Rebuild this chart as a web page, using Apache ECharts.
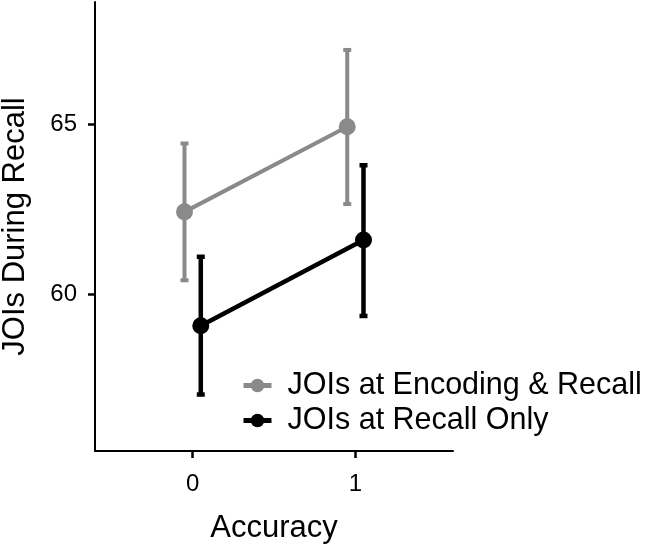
<!DOCTYPE html>
<html>
<head>
<meta charset="utf-8">
<script src="https://cdn.jsdelivr.net/npm/echarts@6/dist/echarts.min.js"></script>
<style>html,body{margin:0;padding:0;background:#fff;}#chart{width:647px;height:548px;}</style>
</head>
<body>
<div id="chart"></div>
<script>
// Data
var accuracy = [0, 1];
var seriesNames = ['JOIs at Encoding & Recall', 'JOIs at Recall Only'];
var encMean = [62.43, 64.93];
var encLower = [60.42, 62.66];
var encUpper = [64.44, 67.19];
var recMean = [59.08, 61.60];
var recLower = [57.06, 59.37];
var recUpper = [61.11, 63.80];
var yTicks = [60, 65];
var xTicks = [0, 1];

var dodge = [-0.05, 0.05];
var colors = ['#8a8a8a', '#000000'];
var FONT = '"Liberation Sans", Arial, Helvetica, sans-serif';

function pts(means, d) { return accuracy.map(function (x, i) { return [x + d, means[i]]; }); }
function errs(lo, hi, d) { return accuracy.map(function (x, i) { return [x + d, lo[i], hi[i]]; }); }

function errRender(color, lw) {
  return function (params, api) {
    var x = api.value(0);
    var p1 = api.coord([x, api.value(1)]);
    var p2 = api.coord([x, api.value(2)]);
    var hw = 4;
    var st = { stroke: color, lineWidth: lw };
    return {
      type: 'group',
      children: [
        { type: 'line', shape: { x1: p1[0], y1: p1[1], x2: p2[0], y2: p2[1] }, style: st },
        { type: 'line', shape: { x1: p1[0] - hw, y1: p1[1], x2: p1[0] + hw, y2: p1[1] }, style: st },
        { type: 'line', shape: { x1: p2[0] - hw, y1: p2[1], x2: p2[0] + hw, y2: p2[1] }, style: st }
      ]
    };
  };
}

var chart = echarts.init(document.getElementById('chart'), null, { renderer: 'canvas' });
chart.setOption({
  backgroundColor: '#ffffff',
  animation: false,
  textStyle: { fontFamily: FONT },
  grid: { left: 95, right: 194, top: 2, bottom: 97, containLabel: false, outerBoundsMode: 'none' },
  legend: {
    orient: 'vertical',
    left: 236,
    top: 365,
    itemWidth: 28,
    itemHeight: 17,
    itemGap: 4,
    data: seriesNames,
    lineStyle: { width: 5 },
    textStyle: { fontFamily: FONT, fontSize: 30.5, color: '#000', padding: [0, 0, 0, 11], lineHeight: 30 }
  },
  xAxis: {
    type: 'value',
    min: -0.6,
    max: 1.6,
    name: 'Accuracy',
    nameLocation: 'middle',
    nameGap: 62,
    nameTextStyle: { fontFamily: FONT, fontSize: 31, color: '#000' },
    axisLine: { show: true, onZero: false, lineStyle: { color: '#000', width: 2 } },
    axisTick: { show: true, length: 7, customValues: xTicks, lineStyle: { color: '#000', width: 2.5 } },
    axisLabel: { customValues: xTicks, fontSize: 24, color: '#000', margin: 21, fontFamily: FONT },
    splitLine: { show: false }
  },
  yAxis: {
    type: 'value',
    min: 55.4,
    max: 68.6,
    name: 'JOIs During Recall',
    nameLocation: 'middle',
    nameGap: 64,
    nameRotate: 90,
    nameTextStyle: { fontFamily: FONT, fontSize: 31, color: '#000' },
    axisLine: { show: true, onZero: false, lineStyle: { color: '#000', width: 2 } },
    axisTick: { show: true, length: 7, customValues: yTicks, lineStyle: { color: '#000', width: 2.5 } },
    axisLabel: { customValues: yTicks, fontSize: 24, color: '#000', margin: 18, fontFamily: FONT },
    splitLine: { show: false }
  },
  series: [
    {
      type: 'custom', name: seriesNames[0] + ' err', renderItem: errRender(colors[0], 4),
      data: errs(encLower, encUpper, dodge[0]), encode: { x: 0, y: [1, 2] }, z: 2, silent: true
    },
    {
      type: 'line', name: seriesNames[0], data: pts(encMean, dodge[0]),
      symbol: 'circle', symbolSize: 17, itemStyle: { color: colors[0] },
      lineStyle: { color: colors[0], width: 4 }, z: 3
    },
    {
      type: 'custom', name: seriesNames[1] + ' err', renderItem: errRender(colors[1], 4.5),
      data: errs(recLower, recUpper, dodge[1]), encode: { x: 0, y: [1, 2] }, z: 4, silent: true
    },
    {
      type: 'line', name: seriesNames[1], data: pts(recMean, dodge[1]),
      symbol: 'circle', symbolSize: 17, itemStyle: { color: colors[1] },
      lineStyle: { color: colors[1], width: 4.5 }, z: 5
    }
  ]
});
</script>
</body>
</html>
